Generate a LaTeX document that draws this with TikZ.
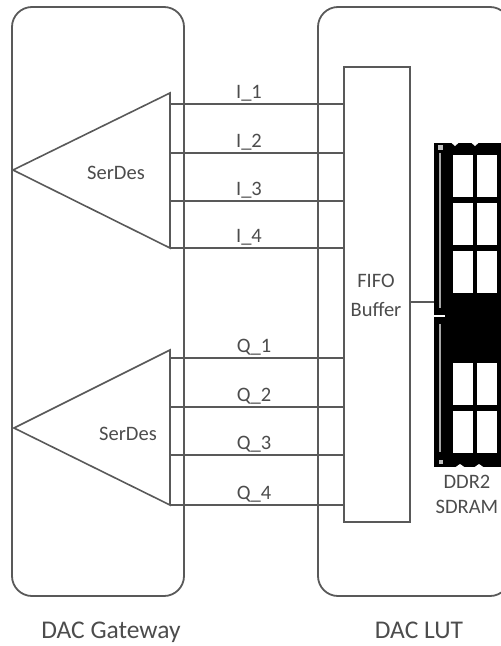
\documentclass[tikz,border=0pt]{standalone}
\usepackage{fontspec}
\setmainfont{Carlito}
\definecolor{ln}{gray}{0.35}
\definecolor{tx}{gray}{0.3}
\tikzset{
 panel/.style={draw=ln,line width=1.8pt,rounded corners=20pt},
 wire/.style={draw=ln,line width=1.7pt},
 tri/.style={draw=ln,line width=1.6pt,line join=miter},
 lbl/.style={text=tx,font=\fontsize{20.5}{24}\selectfont,inner sep=0pt,align=center},
 captext/.style={text=tx,font=\fontsize{25.5}{30}\selectfont,inner sep=0pt},
 chip/.style={fill=black,draw=none},
 win/.style={fill=white,draw=none},
}
\begin{document}
\begin{tikzpicture}[x=1pt,y=-1pt]
\useasboundingbox (0,0) rectangle (501,646);
\draw[panel] (12,7) rectangle (184,596);
\draw[panel] (318,7) rectangle (510,596);
\node[draw=ln,line width=1.6pt,minimum width=66pt,minimum height=455pt,inner sep=0pt,anchor=north west] (fifo) at (343,66) {};
\coordinate (t1) at (170,93); \coordinate (t1b) at (170,248); \coordinate (t1p) at (13,170);
\coordinate (t2) at (170,350); \coordinate (t2b) at (170,505); \coordinate (t2p) at (14,428);
\draw[tri] (t1p) -- (t1) -- (t1b) -- cycle;
\draw[tri] (t2p) -- (t2) -- (t2b) -- cycle;
\foreach \y/\t in {104/I\_1,153/I\_2,201/I\_3,248/I\_4}{
  \coordinate (a) at (170,\y);
  \draw[wire] (a) -- (343,\y);
  \node[lbl,anchor=base] at (249,\y-6) {\t};
}
\foreach \y/\t in {358/Q\_1,407/Q\_2,455/Q\_3,505/Q\_4}{
  \coordinate (a) at (170,\y);
  \draw[wire] (a) -- (343,\y);
  \node[lbl,anchor=base] at (254,\y-6) {\t};
}
\node[lbl] (s1) at (116,173) {SerDes};
\node[lbl] (s2) at (128,434) {SerDes};
\node[lbl,anchor=base] (ff1) at (376,287) {FIFO};
\node[lbl,anchor=base] (ff2) at (376,316) {Buffer};
% DIMM
\fill[chip] (434,143) rectangle (501,467);
\foreach \y in {155,203,251,363,411}{
  \fill[win] (453,\y) rectangle (473,\y+42);
  \fill[win] (477,\y) rectangle (497,\y+42);
}
\foreach \x in {455,475}{
  \fill[white] (\x-4,142.5) -- (\x,146) -- (\x+4,142.5) -- cycle;
}
\foreach \x in {460,479}{
  \fill[white] (\x-5,467.5) -- (\x,464) -- (\x+5,467.5) -- cycle;
}
\draw[gray!70,line width=2pt] (439.5,153) -- (439.5,308);
\draw[gray!70,line width=2pt] (439.5,324) -- (439.5,452);
\draw[white,line width=2pt] (433,316) -- (445,316);
\node[fill=gray!50,inner sep=0pt,minimum width=5pt,minimum height=5pt] (pin) at (440,147) {};
\node[fill=gray!50,inner sep=0pt,minimum width=4pt,minimum height=4pt] (pinb) at (441,462) {};
\coordinate (dimm) at (434,302);
\draw[wire,line width=1.4pt] (409,302) -- (dimm);
\node[lbl,anchor=base] (d1) at (467,488) {DDR2};
\node[lbl,anchor=base] (d2) at (467,513) {SDRAM};
\node[captext,anchor=base] (c1) at (111,638) {DAC Gateway};
\node[captext,anchor=base] (c2) at (419,638) {DAC LUT};
\end{tikzpicture}
\end{document}
